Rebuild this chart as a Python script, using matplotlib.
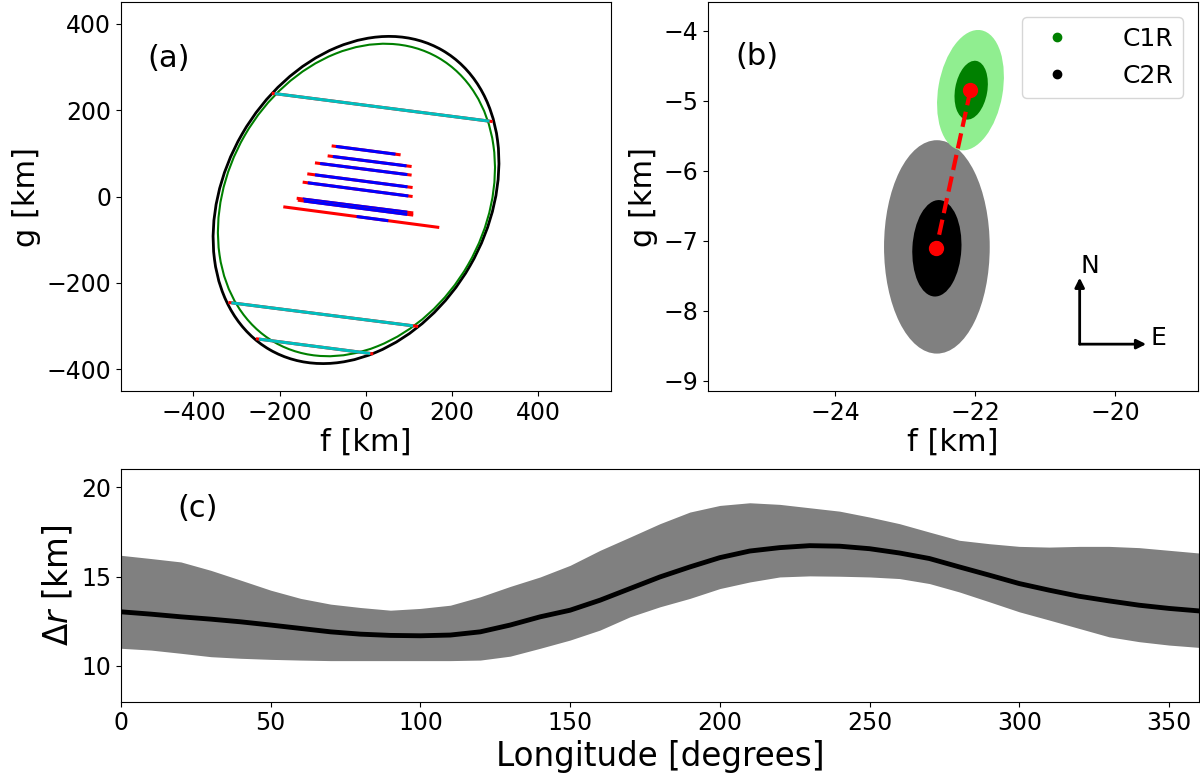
import numpy as np
import matplotlib
matplotlib.use("Agg")
import matplotlib.pyplot as plt
from matplotlib.patches import Ellipse

# ---- panel (a): fitted limb ellipses (f0, g0, semi-major, semi-minor, angle) ----
limb_colors = ["black", "green"]
limb_f0 = [-23.0, -22.0]
limb_g0 = [-8.0, -8.0]
limb_a = [400.0, 380.0]
limb_b = [305.0, 299.0]
limb_angle = [60.0, 60.0]
limb_lw = [2.0, 1.5]

# chords: full extent (incl. red error ends), colour of observed part, error on each side [km]
chord_f1 = [-218.5, -319.0, -255.0, -79.5, -88.8, -118.2, -136.0, -146.7, -160.6, -158.0, -191.6]
chord_g1 = [239.0, -245.0, -329.0, 117.2, 94.1, 77.9, 52.5, 33.3, -4.0, -8.5, -23.8]
chord_f2 = [293.6, 121.0, 17.0, 80.4, 105.9, 105.9, 108.2, 108.2, 109.7, 109.7, 170.0]
chord_g2 = [173.4, -300.6, -364.0, 96.4, 69.4, 49.5, 20.8, 0.0, -38.0, -43.0, -71.6]
chord_err1 = [7, 7, 7, 10, 12, 12, 18, 12, 14, 14, 171.5]
chord_err2 = [7, 12, 7, 12, 12, 10, 12, 10, 14, 14, 119.2]
chord_color = ["c", "c", "c", "blue", "blue", "blue", "blue", "blue", "blue", "blue", "blue"]

# ---- panel (b): solution clouds (centre, width, height, angle) ----
cloud_labels = ["C2R 3sig", "C2R 1sig", "C1R 3sig", "C1R 1sig"]
cloud_colors = ["gray", "black", "lightgreen", "green"]
cloud_f = [-22.55, -22.55, -22.07, -22.06]
cloud_g = [-7.09, -7.11, -4.85, -4.85]
cloud_w = [1.51, 0.70, 0.92, 0.46]
cloud_h = [3.05, 1.38, 1.74, 0.85]
cloud_angle = [0.0, -3.0, -10.0, -10.0]
best_f = [-22.07, -22.56]
best_g = [-4.85, -7.11]

# ---- panel (c): radius difference vs longitude ----
lon = list(range(0, 361, 10))
dr_upper = [16.19, 16.01, 15.82, 15.35, 14.80, 14.24, 13.78, 13.46, 13.27, 13.12,
            13.22, 13.40, 13.87, 14.45, 14.98, 15.63, 16.47, 17.21, 17.96, 18.61,
            18.98, 19.13, 19.04, 18.85, 18.66, 18.33, 17.96, 17.49, 17.03, 16.84,
            16.69, 16.65, 16.69, 16.69, 16.62, 16.47, 16.32]
dr_mean = [13.03, 12.90, 12.75, 12.62, 12.47, 12.29, 12.10, 11.91, 11.78, 11.71,
           11.69, 11.73, 11.91, 12.29, 12.75, 13.12, 13.68, 14.33, 14.98, 15.54,
           16.06, 16.43, 16.62, 16.73, 16.70, 16.56, 16.32, 16.01, 15.54, 15.08,
           14.61, 14.24, 13.90, 13.64, 13.40, 13.22, 13.08]
dr_lower = [10.99, 10.89, 10.71, 10.52, 10.43, 10.37, 10.33, 10.30, 10.30, 10.30,
            10.30, 10.30, 10.33, 10.55, 10.99, 11.45, 12.01, 12.75, 13.31, 13.78,
            14.33, 14.70, 14.98, 15.04, 15.02, 14.98, 14.89, 14.61, 14.14, 13.59,
            13.03, 12.57, 12.10, 11.63, 11.36, 11.17, 11.04]

TICK = 17
LABEL = 22

fig = plt.figure(figsize=(12, 7.76), dpi=100)
ax_a = fig.add_axes([0.1008, 0.4961, 0.4083, 0.5013])
ax_b = fig.add_axes([0.5900, 0.4961, 0.4083, 0.5013])
ax_c = fig.add_axes([0.1008, 0.0957, 0.8983, 0.2995])

# (a)
for i in range(len(limb_f0)):
    ax_a.add_patch(Ellipse((limb_f0[i], limb_g0[i]), 2 * limb_a[i], 2 * limb_b[i],
                           angle=limb_angle[i], fill=False,
                           edgecolor=limb_colors[i], lw=limb_lw[i]))
for i in range(len(chord_f1)):
    f1, g1, f2, g2 = chord_f1[i], chord_g1[i], chord_f2[i], chord_g2[i]
    length = np.hypot(f2 - f1, g2 - g1)
    uf, ug = (f2 - f1) / length, (g2 - g1) / length
    ax_a.plot([f1, f2], [g1, g2], color="red", lw=2.2, solid_capstyle="butt")
    ax_a.plot([f1 + uf * chord_err1[i], f2 - uf * chord_err2[i]],
              [g1 + ug * chord_err1[i], g2 - ug * chord_err2[i]],
              color=chord_color[i], lw=2.2, solid_capstyle="butt")
ax_a.set_xlim(-568, 568)
ax_a.set_ylim(-450, 450)
ax_a.set_xticks([-400, -200, 0, 200, 400])
ax_a.set_yticks([-400, -200, 0, 200, 400])
ax_a.set_xlabel("f [km]", fontsize=LABEL, labelpad=2)
ax_a.set_ylabel("g [km]", fontsize=LABEL)
ax_a.text(0.053, 0.856, "(a)", transform=ax_a.transAxes, fontsize=LABEL,
          ha="left", va="center")

# (b)
for i in range(len(cloud_f)):
    ax_b.add_patch(Ellipse((cloud_f[i], cloud_g[i]), cloud_w[i], cloud_h[i],
                           angle=cloud_angle[i], facecolor=cloud_colors[i],
                           edgecolor="none"))
ax_b.plot(best_f, best_g, "--", color="red", lw=3)
ax_b.plot(best_f, best_g, "o", color="red", ms=10)
ax_b.plot([], [], "o", color="green", ms=6, label="C1R")
ax_b.plot([], [], "o", color="black", ms=6, label="C2R")
ax_b.legend(loc="upper right", fontsize=18, handletextpad=1.6,
            borderaxespad=0.6)

arrow_f0, arrow_g0, arrow_len = -20.51, -8.48, 0.95
ax_b.annotate("", xy=(arrow_f0, arrow_g0 + arrow_len), xytext=(arrow_f0, arrow_g0),
              arrowprops=dict(arrowstyle="-|>", color="black", lw=2,
                              mutation_scale=14, shrinkA=0, shrinkB=0))
ax_b.annotate("", xy=(arrow_f0 + arrow_len, arrow_g0), xytext=(arrow_f0, arrow_g0),
              arrowprops=dict(arrowstyle="-|>", color="black", lw=2,
                              mutation_scale=14, shrinkA=0, shrinkB=0))
ax_b.text(arrow_f0 + 0.15, arrow_g0 + arrow_len + 0.17, "N", fontsize=18,
          ha="center", va="center")
ax_b.text(arrow_f0 + arrow_len + 0.17, arrow_g0 + 0.09, "E", fontsize=18,
          ha="center", va="center")

ax_b.set_xlim(-25.82, -18.82)
ax_b.set_ylim(-9.15, -3.59)
ax_b.set_xticks([-24, -22, -20])
ax_b.set_yticks([-9, -8, -7, -6, -5, -4])
ax_b.set_xlabel("f [km]", fontsize=LABEL, labelpad=2)
ax_b.set_ylabel("g [km]", fontsize=LABEL)
ax_b.text(0.055, 0.859, "(b)", transform=ax_b.transAxes, fontsize=LABEL,
          ha="left", va="center")

# (c)
ax_c.fill_between(lon, dr_lower, dr_upper, color="gray", lw=0)
ax_c.plot(lon, dr_mean, color="black", lw=3.5)
ax_c.set_xlim(0, 360)
ax_c.set_ylim(8, 21)
ax_c.set_xticks(range(0, 351, 50))
ax_c.set_yticks([10, 15, 20])
ax_c.set_xlabel("Longitude [degrees]", fontsize=23.5, labelpad=3)
ax_c.set_ylabel(r"$\Delta r$ [km]", fontsize=23.5)
ax_c.text(0.052, 0.832, "(c)", transform=ax_c.transAxes, fontsize=LABEL,
          ha="left", va="center")

for ax in (ax_a, ax_b, ax_c):
    ax.tick_params(labelsize=TICK)

fig.savefig("out.png", dpi=100)
